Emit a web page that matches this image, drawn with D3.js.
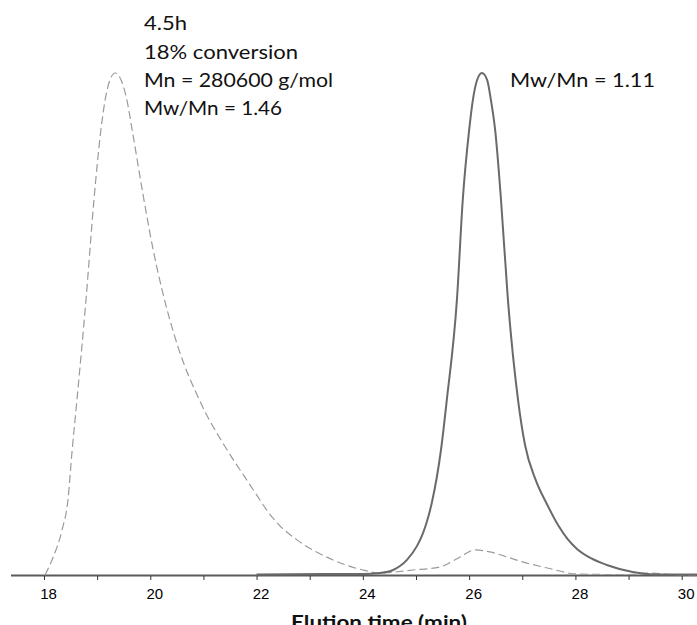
<!DOCTYPE html>
<html>
<head>
<meta charset="utf-8">
<script src="https://cdn.jsdelivr.net/npm/d3@7"></script>
<style>
  html, body { margin: 0; padding: 0; background: #fff; }
  svg { display: block; }
</style>
</head>
<body>
<svg id="chart" width="697" height="625"></svg>
<script>
// GPC traces: elution time (min) vs normalised detector response
const solidTime   = [22.0, 23.5, 24.0, 24.32, 24.57, 24.83, 25.02, 25.13, 25.21, 25.30, 25.47, 25.58, 25.77, 25.88, 26.00, 26.07, 26.15, 26.24, 26.34, 26.41, 26.49, 26.60, 26.73, 26.92, 27.05, 27.25, 27.47, 27.67, 27.85, 28.03, 28.30, 28.59, 29.08, 29.50, 30.3];
const solidSignal = [0.001, 0.002, 0.002, 0.004, 0.010, 0.030, 0.058, 0.083, 0.108, 0.145, 0.249, 0.349, 0.548, 0.747, 0.886, 0.946, 0.986, 1.000, 0.986, 0.946, 0.886, 0.747, 0.548, 0.349, 0.260, 0.190, 0.140, 0.100, 0.072, 0.052, 0.033, 0.020, 0.006, 0.001, 0.001];

const dashedTime   = [18.02, 18.15, 18.34, 18.45, 18.53, 18.62, 18.79, 18.94, 19.07, 19.15, 19.24, 19.34, 19.45, 19.56, 19.66, 19.86, 20.05, 20.24, 20.52, 20.94, 21.44, 21.78, 22.01, 22.20, 22.44, 22.76, 23.44, 24.00, 24.32, 24.94, 25.45, 25.83, 26.11, 26.39, 26.77, 27.01, 27.47, 28.03, 28.6, 29.0, 29.4, 29.8, 30.3];
const dashedSignal = [0.000, 0.030, 0.090, 0.149, 0.249, 0.349, 0.548, 0.747, 0.886, 0.946, 0.986, 1.000, 0.986, 0.946, 0.886, 0.760, 0.650, 0.560, 0.455, 0.345, 0.250, 0.195, 0.158, 0.128, 0.098, 0.070, 0.030, 0.010, 0.004, 0.010, 0.016, 0.036, 0.050, 0.046, 0.034, 0.026, 0.014, 0.002, 0.001, 0.001, 0.004, 0.001, 0.000];

const tickValues = [18, 19, 20, 21, 22, 23, 24, 25, 26, 27, 28, 29, 30];

const leftNotes  = ["4.5h", "18% conversion", "Mn = 280600 g/mol", "Mw/Mn = 1.46"];
const rightNotes = ["Mw/Mn = 1.11"];
const axisTitle  = "Elution time (min)";

const svg = d3.select("#chart");
const W = 697;

const x = d3.scaleLinear().domain([18, 30]).range([44, 681.7]);
const y = d3.scaleLinear().domain([0, 1]).range([575, 73]);

const line = d3.line()
  .x((d) => x(d[0]))
  .y((d) => y(d[1]))
  .curve(d3.curveMonotoneX);

// baseline axis
const axisY = 575.5;
svg.append("line")
  .attr("x1", 11).attr("x2", W)
  .attr("y1", axisY).attr("y2", axisY)
  .attr("stroke", "#5a5a5a").attr("stroke-width", 2);

const axis = d3.axisBottom(x)
  .tickValues(tickValues)
  .tickSize(4)
  .tickPadding(8)
  .tickFormat((d) => (d % 2 === 0 ? d : ""));

const gAxis = svg.append("g")
  .attr("transform", `translate(0,${axisY + 0.5})`)
  .call(axis);
gAxis.select(".domain").remove();
gAxis.selectAll(".tick line").attr("stroke", "#333").attr("stroke-width", 1);
gAxis.selectAll(".tick text")
  .attr("fill", "#000")
  .attr("dx", 4)
  .style("font-family", "'Liberation Sans', Arial, sans-serif")
  .style("font-size", "15px");

// traces
svg.append("path")
  .datum(d3.zip(dashedTime, dashedSignal))
  .attr("d", line)
  .attr("fill", "none")
  .attr("stroke", "#9a9a9a")
  .attr("stroke-width", 1.2)
  .attr("stroke-dasharray", "8,4");

svg.append("path")
  .datum(d3.zip(solidTime, solidSignal))
  .attr("d", line)
  .attr("fill", "none")
  .attr("stroke", "#6a6a6a")
  .attr("stroke-width", 2);

// annotations
const noteFont = "Lato, 'Open Sans', sans-serif";
const leftWidths = [43, 154, 189, 138];
const leftBase = [30, 59, 87.3, 115];
svg.append("g").selectAll("text")
  .data(leftNotes)
  .join("text")
  .attr("x", 144)
  .attr("y", (d, i) => leftBase[i])
  .attr("textLength", (d, i) => leftWidths[i])
  .attr("lengthAdjust", "spacingAndGlyphs")
  .style("font-family", noteFont)
  .style("font-size", "18.5px")
  .attr("fill", "#111")
  .text((d) => d);

svg.append("text")
  .attr("x", 510)
  .attr("y", 86.7)
  .attr("textLength", 145)
  .attr("lengthAdjust", "spacingAndGlyphs")
  .style("font-family", noteFont)
  .style("font-size", "18.5px")
  .attr("fill", "#111")
  .text(rightNotes[0]);

svg.append("text")
  .attr("x", 291)
  .attr("y", 629)
  .attr("textLength", 176)
  .attr("lengthAdjust", "spacingAndGlyphs")
  .style("font-family", noteFont)
  .style("font-size", "19px")
  .style("font-weight", "bold")
  .attr("fill", "#111")
  .text(axisTitle);
</script>
</body>
</html>
